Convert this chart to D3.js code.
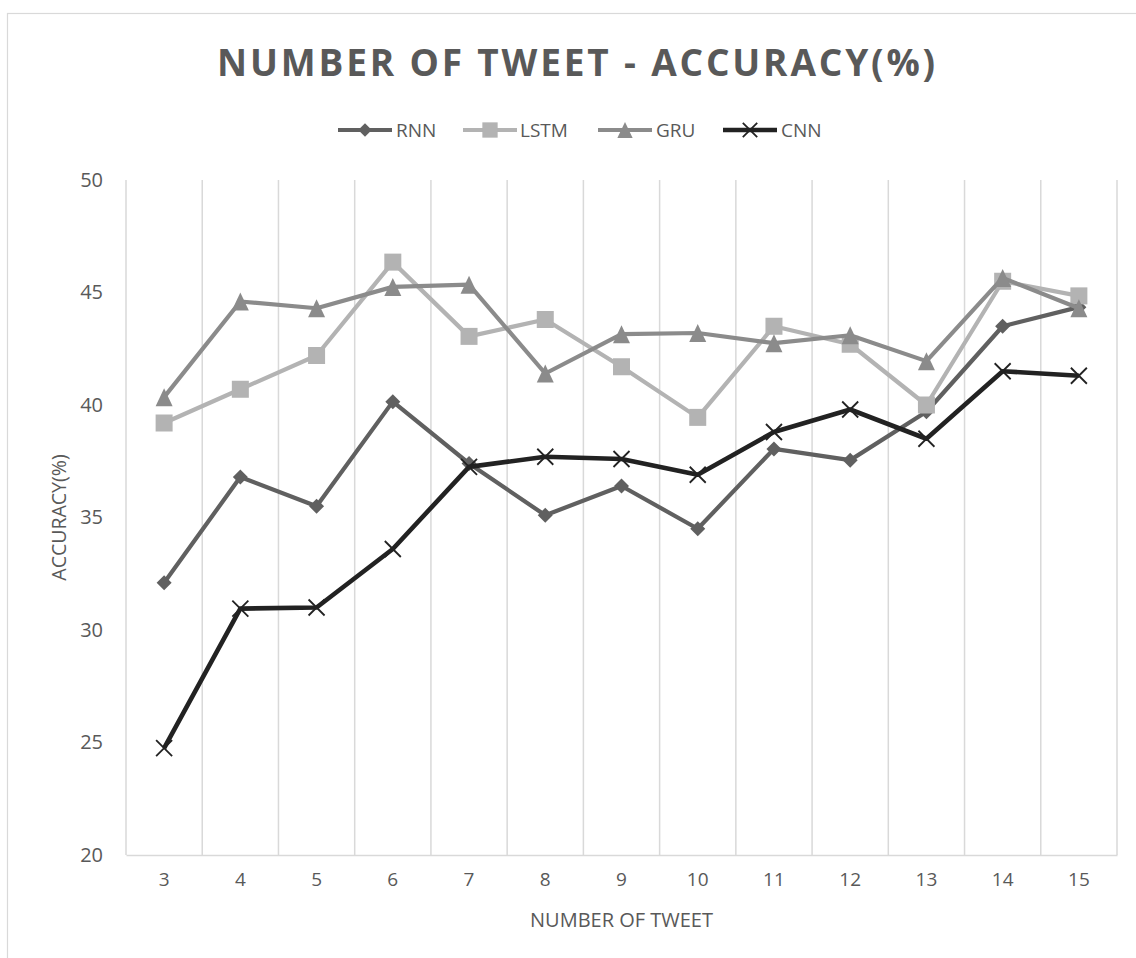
<!DOCTYPE html>
<html>
<head>
<meta charset="utf-8">
<script src="https://cdn.jsdelivr.net/npm/d3@7"></script>
<style>
  html, body { margin: 0; padding: 0; background: #ffffff; }
  svg { display: block; font-family: "Open Sans", "DejaVu Sans", sans-serif; }
</style>
</head>
<body>
<svg id="chart" width="1136" height="958"></svg>
<script>
const categories = ["3","4","5","6","7","8","9","10","11","12","13","14","15"];
const rnn  = [32.1, 36.8, 35.5, 40.15, 37.4, 35.1, 36.4, 34.5, 38.05, 37.55, 39.7, 43.5, 44.35];
const lstm = [39.2, 40.7, 42.2, 46.35, 43.05, 43.8, 41.7, 39.45, 43.5, 42.7, 40.0, 45.5, 44.85];
const gru  = [40.35, 44.6, 44.3, 45.25, 45.35, 41.4, 43.15, 43.2, 42.75, 43.1, 41.95, 45.65, 44.3];
const cnn  = [24.75, 30.95, 31.0, 33.6, 37.25, 37.7, 37.6, 36.9, 38.8, 39.8, 38.5, 41.5, 41.3];
const yTicks = [20, 25, 30, 35, 40, 45, 50];
const seriesNames = ["RNN", "LSTM", "GRU", "CNN"];
const titleText = "NUMBER OF TWEET - ACCURACY(%)";
const xTitle = "NUMBER OF TWEET";
const yTitle = "ACCURACY(%)";

const seriesStyle = {
  RNN:  {color: "#606060", marker: "diamond", width: 4.2},
  LSTM: {color: "#b3b3b3", marker: "square", width: 4.2},
  GRU:  {color: "#8b8b8b", marker: "triangle", width: 4.2},
  CNN:  {color: "#222222", marker: "cross", width: 4.6}
};
const seriesData = {RNN: rnn, LSTM: lstm, GRU: gru, CNN: cnn};

const svg = d3.select("#chart");
const textColor = "#595959";
const gridColor = "#d9d9d9";

// chart border
svg.append("rect").attr("x", 7.5).attr("y", 13.5).attr("width", 1140).attr("height", 960)
  .attr("fill", "none").attr("stroke", gridColor).attr("stroke-width", 1.2);

const plot = {left: 126, right: 1117, top: 180, bottom: 855};
const x = d3.scaleBand().domain(categories).range([plot.left, plot.right]).padding(0);
const y = d3.scaleLinear().domain([20, 50]).range([plot.bottom, plot.top]);

// vertical gridlines at band boundaries
const bounds = categories.map(c => x(c)).concat([x(categories[categories.length - 1]) + x.bandwidth()]);
svg.append("g").selectAll("line").data(bounds).join("line")
  .attr("x1", d => d).attr("x2", d => d)
  .attr("y1", plot.top).attr("y2", plot.bottom)
  .attr("stroke", gridColor).attr("stroke-width", 1.5);

// x axis
const xAxis = svg.append("g").attr("transform", `translate(0,${plot.bottom})`)
  .call(d3.axisBottom(x).tickSize(0).tickPadding(18));
xAxis.select(".domain").attr("stroke", gridColor).attr("stroke-width", 1.5);
xAxis.selectAll("text").attr("fill", textColor).style("font-size", "19px")
  .style("font-family", "'Open Sans', sans-serif").attr("dy", "0.71em");

// y axis
const yAxis = svg.append("g").attr("transform", `translate(${plot.left},0)`)
  .call(d3.axisLeft(y).tickValues(yTicks).tickSize(0).tickPadding(23));
yAxis.select(".domain").remove();
yAxis.selectAll("text").attr("fill", textColor).style("font-size", "20px")
  .style("font-family", "'Open Sans', sans-serif");

// axis titles
svg.append("text").attr("x", (plot.left + plot.right) / 2).attr("y", 919)
  .attr("text-anchor", "middle").attr("dominant-baseline", "central")
  .attr("fill", textColor).style("font-size", "20px").text(xTitle);
svg.append("text")
  .attr("transform", `translate(58,${(plot.top + plot.bottom) / 2}) rotate(-90)`)
  .attr("text-anchor", "middle").attr("dominant-baseline", "central")
  .attr("fill", textColor).style("font-size", "19.5px").text(yTitle);

// title
const t = svg.append("text").attr("x", 577.5).attr("y", 61)
  .attr("text-anchor", "middle").attr("dominant-baseline", "central")
  .attr("fill", textColor).style("font-size", "37px").style("font-weight", "bold")
  .text(titleText);
const tw = t.node().getComputedTextLength();
const target = 721;
t.style("letter-spacing", ((target - tw) / (titleText.length)) + "px");

// markers
function drawMarker(g, type, cx, cy, color, scale) {
  const s = scale || 1;
  if (type === "diamond") {
    const r = 7.5 * s;
    g.append("path").attr("d", `M${cx},${cy - r}L${cx + r},${cy}L${cx},${cy + r}L${cx - r},${cy}Z`)
      .attr("fill", color);
  } else if (type === "square") {
    const h = 8.5 * s;
    g.append("rect").attr("x", cx - h).attr("y", cy - h).attr("width", 2 * h).attr("height", 2 * h)
      .attr("fill", color);
  } else if (type === "triangle") {
    const w = 8.5 * s, hh = 9 * s;
    g.append("path").attr("d", `M${cx},${cy - hh}L${cx + w},${cy + hh}L${cx - w},${cy + hh}Z`)
      .attr("fill", color);
  } else if (type === "cross") {
    const r = 8 * s;
    g.append("path").attr("d", `M${cx - r},${cy - r}L${cx + r},${cy + r}M${cx - r},${cy + r}L${cx + r},${cy - r}`)
      .attr("stroke", color).attr("stroke-width", 1.8).attr("fill", "none");
  }
}

const line = d3.line().x((d, i) => x(categories[i]) + x.bandwidth() / 2).y(d => y(d));
seriesNames.forEach(name => {
  const st = seriesStyle[name];
  const data = seriesData[name];
  const g = svg.append("g");
  g.append("path").datum(data).attr("d", line).attr("fill", "none")
    .attr("stroke", st.color).attr("stroke-width", st.width).attr("stroke-linejoin", "round");
  data.forEach((v, i) => {
    drawMarker(g, st.marker, x(categories[i]) + x.bandwidth() / 2, y(v), st.color);
  });
});

// legend
const legendItems = [
  {name: "RNN", x0: 338, tx: 396},
  {name: "LSTM", x0: 463, tx: 520},
  {name: "GRU", x0: 598, tx: 656},
  {name: "CNN", x0: 723, tx: 781}
];
const ly = 130;
const lg = svg.append("g");
legendItems.forEach(it => {
  const st = seriesStyle[it.name];
  lg.append("line").attr("x1", it.x0).attr("x2", it.x0 + 54).attr("y1", ly).attr("y2", ly)
    .attr("stroke", st.color).attr("stroke-width", st.width);
  drawMarker(lg, st.marker, it.x0 + 27, ly, st.color, 0.9);
  lg.append("text").attr("x", it.tx).attr("y", ly).attr("dominant-baseline", "central")
    .attr("fill", textColor).style("font-size", "19px").text(it.name);
});
</script>
</body>
</html>
